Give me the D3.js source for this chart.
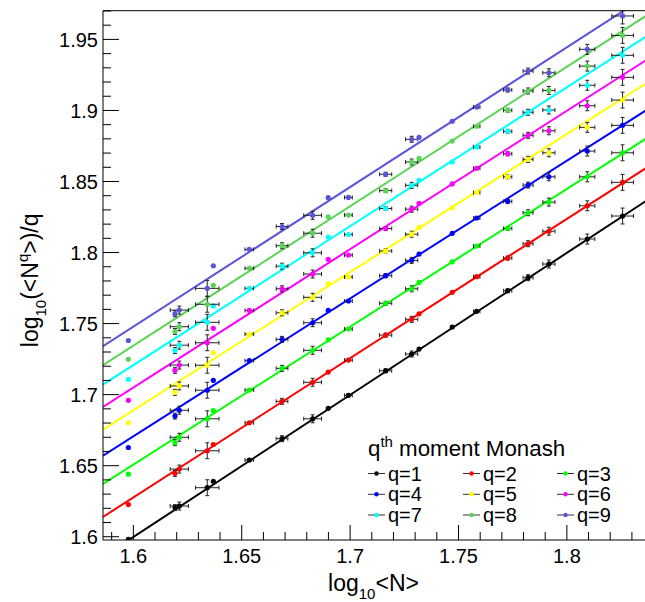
<!DOCTYPE html>
<html>
<head>
<meta charset="utf-8">
<script src="https://cdn.jsdelivr.net/npm/d3@7"></script>
<style>
  html, body { margin: 0; padding: 0; background: #fff; }
  svg { display: block; }
  text { font-family: "Liberation Sans", Arial, Helvetica, sans-serif; fill: #000; }
</style>
</head>
<body>
<svg id="chart" width="645" height="602"></svg>
<script>
// ---------------- data ----------------
const xVals = [1.5977,1.6192,1.6212,1.6341,1.6369,1.6535,1.6686,1.6827,1.6899,1.6992,1.7164,1.7284,1.7318,1.7471,1.7584,1.7727,1.7821,1.7917,1.8094,1.8257];
const xErr  = [0,0,0.0042,0.0054,0,0.0020,0.0027,0.0041,0,0.0018,0.0028,0.0028,0,0,0.0015,0.0019,0.0023,0.0028,0.0035,0.0050];
const yErr  = [0,0.0021,0.0028,0.0056,0,0.0007,0.0021,0.0028,0,0.0007,0.0014,0.0021,0,0,0.0007,0.0014,0.0021,0.0028,0.0035,0.0056];

const q1 = [1.5982,1.6205,1.6216,1.6345,1.6390,1.6540,1.6690,1.6830,1.6904,1.6995,1.7168,1.7286,1.7321,1.7476,1.7586,1.7731,1.7823,1.7919,1.8095,1.8257];
const q2 = [1.6227,1.6446,1.6476,1.6605,1.6649,1.6802,1.6953,1.7087,1.7159,1.7243,1.7419,1.7530,1.7569,1.7720,1.7830,1.7961,1.8062,1.8150,1.8329,1.8494];
const q3 = [1.6440,1.6662,1.6700,1.6830,1.6888,1.7032,1.7185,1.7312,1.7386,1.7462,1.7643,1.7745,1.7790,1.7935,1.8046,1.8170,1.8280,1.8355,1.8533,1.8702];
const q4 = [1.6628,1.6849,1.6890,1.7031,1.7101,1.7239,1.7389,1.7506,1.7593,1.7659,1.7837,1.7945,1.7989,1.8135,1.8243,1.8360,1.8475,1.8533,1.8714,1.8895];
const q5 = [1.6802,1.7016,1.7061,1.7207,1.7294,1.7426,1.7576,1.7685,1.7780,1.7828,1.8011,1.8129,1.8177,1.8315,1.8422,1.8533,1.8656,1.8702,1.8881,1.9073];
const q6 = [1.6960,1.7171,1.7208,1.7365,1.7467,1.7593,1.7745,1.7849,1.7952,1.7982,1.8169,1.8305,1.8346,1.8483,1.8593,1.8695,1.8825,1.8857,1.9033,1.9233];
const q7 = [1.7108,1.7310,1.7348,1.7509,1.7624,1.7748,1.7904,1.7998,1.8109,1.8127,1.8310,1.8473,1.8508,1.8638,1.8742,1.8853,1.8987,1.9003,1.9177,1.9388];
const q8 = [1.7249,1.7444,1.7478,1.7636,1.7770,1.7889,1.8048,1.8136,1.8252,1.8264,1.8436,1.8637,1.8663,1.8785,1.8888,1.9001,1.9137,1.9141,1.9312,1.9528];
const q9 = [1.7381,1.7569,1.7595,1.7748,1.7907,1.8022,1.8183,1.8262,1.8386,1.8388,1.8551,1.8797,1.8811,1.8924,1.9024,1.9144,1.9277,1.9265,1.9430,1.9665];

// linear fit parameters: value at log10<N> = 1.7 and slope
const fitAt17  = [1.6998,1.72566,1.74774,1.76768,1.78624,1.80237,1.81853,1.83260,1.84613];
const fitSlope = [1.0000,0.9802,0.9701,0.9698,0.9721,0.9741,0.9775,0.9818,0.9832];

const seriesNames = ["q=1","q=2","q=3","q=4","q=5","q=6","q=7","q=8","q=9"];
const seriesColors = ["#000000","#ff0000","#00ff00","#0000ff","#ffff00","#ff00ff","#00ffff","#59d454","#5954d9"];
const seriesValues = [q1,q2,q3,q4,q5,q6,q7,q8,q9];

const xMajorTicks = [1.6,1.65,1.7,1.75,1.8];
const yMajorTicks = [1.6,1.65,1.7,1.75,1.8,1.85,1.9,1.95];
const legendTitle = "moment Monash";

// ---------------- layout ----------------
const svg = d3.select("#chart");
const L = 103, R = 646, T = 10.7, B = 540;
const x = d3.scaleLinear().domain([1.586, 1.8365]).range([L, R]);
const y = d3.scaleLinear().domain([1.5977, 1.9702]).range([B, T]);

svg.append("defs").append("clipPath").attr("id","clip")
  .append("rect").attr("x",L).attr("y",T).attr("width",R-L).attr("height",B-T);

const plot = svg.append("g").attr("clip-path","url(#clip)");

// fit lines
seriesValues.forEach((vals, i) => {
  const f = v => fitAt17[i] + fitSlope[i]*(v-1.7);
  const xs = x.domain();
  plot.append("line")
    .attr("x1", x(xs[0])).attr("y1", y(f(xs[0])))
    .attr("x2", x(xs[1])).attr("y2", y(f(xs[1])))
    .attr("stroke", seriesColors[i]).attr("stroke-width", 2);
});

// error bars + markers
const ebColor = "#222";
seriesValues.forEach((vals, i) => {
  const g = plot.append("g");
  vals.forEach((v, j) => {
    const cx = x(xVals[j]), cy = y(v);
    if (xErr[j] > 0) {
      const xa = x(xVals[j]-xErr[j]), xb = x(xVals[j]+xErr[j]);
      g.append("line").attr("x1",xa).attr("x2",xb).attr("y1",cy).attr("y2",cy)
        .attr("stroke",ebColor).attr("stroke-width",1);
      [xa,xb].forEach(xx => g.append("line").attr("x1",xx).attr("x2",xx)
        .attr("y1",cy-2).attr("y2",cy+2).attr("stroke",ebColor).attr("stroke-width",1));
    }
    if (yErr[j] > 0) {
      const ya = y(v-yErr[j]), yb = y(v+yErr[j]);
      g.append("line").attr("x1",cx).attr("x2",cx).attr("y1",ya).attr("y2",yb)
        .attr("stroke",ebColor).attr("stroke-width",1);
      [ya,yb].forEach(yy => g.append("line").attr("x1",cx-2).attr("x2",cx+2)
        .attr("y1",yy).attr("y2",yy).attr("stroke",ebColor).attr("stroke-width",1));
    }
  });
  g.selectAll("circle").data(vals).enter().append("circle")
    .attr("cx", (d,j) => x(xVals[j])).attr("cy", d => y(d))
    .attr("r", 2.6).attr("fill", seriesColors[i]);
});

// ---------------- axes ----------------
const ax = svg.append("g");
ax.append("line").attr("x1",L).attr("x2",R).attr("y1",B).attr("y2",B).attr("stroke","#000").attr("stroke-width",1);
ax.append("line").attr("x1",L).attr("x2",L).attr("y1",T).attr("y2",B).attr("stroke","#000").attr("stroke-width",1);
ax.append("line").attr("x1",L).attr("x2",R).attr("y1",T).attr("y2",T).attr("stroke","#000").attr("stroke-width",1);

// x ticks (inward)
const xMinor = d3.range(159, 184).map(k => k/100).filter(v => v >= x.domain()[0] && v <= x.domain()[1]);
xMinor.forEach(v => {
  const major = xMajorTicks.some(t => Math.abs(t-v) < 1e-6);
  ax.append("line").attr("x1",x(v)).attr("x2",x(v)).attr("y1",B).attr("y2",B-(major?15:8))
    .attr("stroke","#000").attr("stroke-width",1);
});
xMajorTicks.forEach(v => {
  ax.append("text").attr("x",x(v)).attr("y",563).attr("text-anchor","middle")
    .attr("font-size",20).text(v.toString());
});

// y ticks (inward)
const yMinor = d3.range(160, 198).map(k => k/100).filter(v => v >= y.domain()[0] && v <= y.domain()[1]);
yMinor.forEach(v => {
  const major = yMajorTicks.some(t => Math.abs(t-v) < 1e-6);
  ax.append("line").attr("x1",L).attr("x2",L+(major?16:8)).attr("y1",y(v)).attr("y2",y(v))
    .attr("stroke","#000").attr("stroke-width",1);
});
yMajorTicks.forEach(v => {
  ax.append("text").attr("x",98).attr("y",y(v)).attr("dy","0.36em").attr("text-anchor","end")
    .attr("font-size",20).text(v.toString());
});

// axis titles
const xt = svg.append("text").attr("x",(L+R)/2 - 1).attr("y",591).attr("text-anchor","middle").attr("font-size",23);
xt.append("tspan").text("log");
xt.append("tspan").attr("font-size",15).attr("dy",8).text("10");
xt.append("tspan").attr("dy",-8).text("<N>");

const yt = svg.append("text").attr("transform",`translate(38,${(T+B)/2 + 5}) rotate(-90)`)
  .attr("text-anchor","middle").attr("font-size",23);
yt.append("tspan").text("log");
yt.append("tspan").attr("font-size",15).attr("dy",8).text("10");
yt.append("tspan").attr("dy",-8).text("(<N");
yt.append("tspan").attr("font-size",15).attr("dy",-10).text("q");
yt.append("tspan").attr("dy",10).text(">)/q");

// ---------------- legend ----------------
const lg = svg.append("g");
const lt = lg.append("text").attr("x",368).attr("y",456).attr("font-size",22.3);
lt.append("tspan").text("q");
lt.append("tspan").attr("font-size",15).attr("dy",-9).text("th");
lt.append("tspan").attr("dy",9).text(" " + legendTitle);

const colX = [368, 463, 557];
const rowY = [473.5, 494.3, 515];
seriesNames.forEach((name, i) => {
  const cx = colX[i % 3], cy = rowY[Math.floor(i/3)];
  lg.append("line").attr("x1",cx).attr("x2",cx+17).attr("y1",cy).attr("y2",cy)
    .attr("stroke","#333").attr("stroke-width",1);
  lg.append("circle").attr("cx",cx+8.5).attr("cy",cy).attr("r",2.2).attr("fill",seriesColors[i]);
  lg.append("text").attr("x",cx+20).attr("y",cy+7).attr("font-size",20).text(name);
});
</script>
</body>
</html>
